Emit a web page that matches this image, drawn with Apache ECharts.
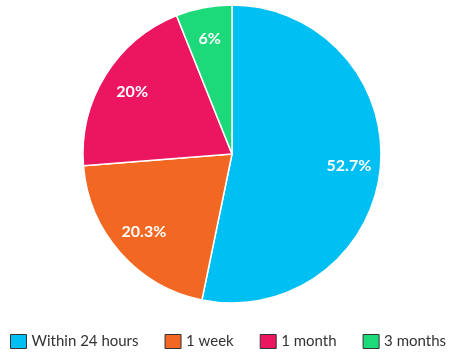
<!DOCTYPE html>
<html><head><meta charset="utf-8">
<script src="https://cdn.jsdelivr.net/npm/echarts@6/dist/echarts.min.js"></script>
<style>html,body{margin:0;padding:0;background:#fff}#c{width:456px;height:358px}</style>
</head><body><div id="c"></div>
<script>
const categories = ['Within 24 hours', '1 week', '1 month', '3 months'];
const values = [52.7, 20.3, 20, 6];
const colors = ['#00BFF2', '#F26822', '#EC1660', '#1CD97A'];

const data = categories.map((n, i) => ({ name: n, value: values[i], itemStyle: { color: colors[i] } }));
const chart = echarts.init(document.getElementById('c'));
chart.setOption({
  animation: false,
  legend: {
    top: 334, left: 'center', padding: 0,
    icon: 'rect', itemWidth: 16, itemHeight: 14, itemGap: 26,
    itemStyle: { borderColor: '#333', borderWidth: 1 },
    textStyle: { fontFamily: 'Lato', fontSize: 15, color: '#333' },
    data: categories
  },
  series: [
    {
      type: 'pie', center: [232, 154], radius: 149, startAngle: 90, clockwise: true,
      itemStyle: { borderColor: '#fff', borderWidth: 1.5 },
      label: { show: false }, labelLine: { show: false },
      data: data
    },
    {
      type: 'pie', center: [232, 154], radius: [80, 149], startAngle: 90, clockwise: true,
      silent: true, legendHoverLink: false,
      itemStyle: { color: 'rgba(0,0,0,0)', borderWidth: 0 },
      label: { show: true, position: 'inside', formatter: p => p.value + '%', color: '#fff',
               fontFamily: 'Lato', fontSize: 16, fontWeight: 'bold' },
      labelLine: { show: false },
      data: categories.map((n, i) => ({ name: n + ' ', value: values[i] }))
    }
  ]
});
</script></body></html>
